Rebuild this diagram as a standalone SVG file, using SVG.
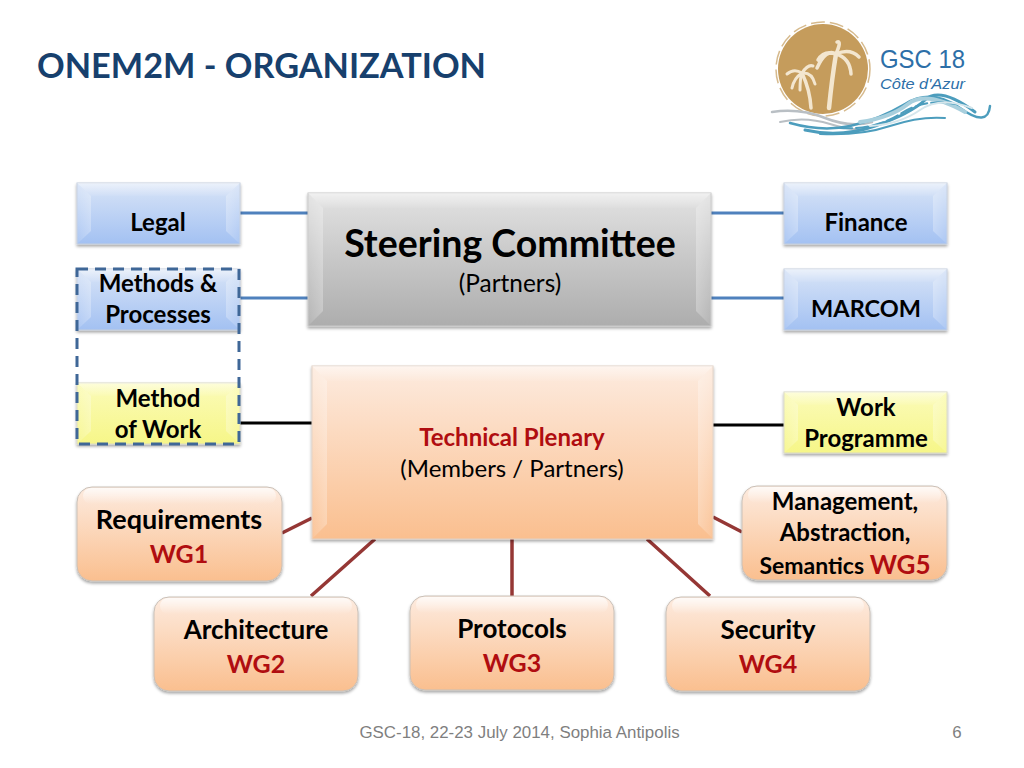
<svg xmlns="http://www.w3.org/2000/svg" width="1024" height="768" viewBox="0 0 1024 768">
<style>
text{font-family:Lato,"Open Sans",sans-serif;text-anchor:middle;fill:#000}
.b{font-weight:700;font-size:24px}
.w{font-weight:700;font-size:26px}
.wg{font-weight:700;font-size:25px;fill:#b00d10}
.r{fill:#b00d10}
.n{font-size:24px}
.bl{stroke:#4f81bd;stroke-width:3;fill:none}
.bk{stroke:#000;stroke-width:3;fill:none}
.br{stroke:#953735;stroke-width:3.5;fill:none}
.hi{fill:url(#gt)}
.sl{fill:url(#gl)}
.sr{fill:url(#gr)}
.foot{font-family:"Liberation Sans",Arial,sans-serif;font-size:16.9px;fill:#7f7f7f}
</style>
<defs>
<linearGradient id="gb" x1="0" y1="0" x2="0" y2="1"><stop offset="0" stop-color="#d8e4f7"/><stop offset="1" stop-color="#a3c1f2"/></linearGradient>
<linearGradient id="gy" x1="0" y1="0" x2="0" y2="1"><stop offset="0" stop-color="#fbfbb8"/><stop offset="1" stop-color="#f6f688"/></linearGradient>
<linearGradient id="gg" x1="0" y1="0" x2="0" y2="1"><stop offset="0" stop-color="#e2e2e2"/><stop offset="1" stop-color="#adadad"/></linearGradient>
<linearGradient id="go" x1="0" y1="0" x2="0" y2="1"><stop offset="0" stop-color="#fdebdf"/><stop offset="1" stop-color="#fabf8f"/></linearGradient>
<linearGradient id="gh" x1="0" y1="0" x2="0" y2="1"><stop offset="0" stop-color="#fff" stop-opacity=".75"/><stop offset="1" stop-color="#fff" stop-opacity="0"/></linearGradient>
<linearGradient id="gt" x1="0" y1="0" x2="0" y2="1"><stop offset="0" stop-color="#fff" stop-opacity=".5"/><stop offset="1" stop-color="#fff" stop-opacity=".05"/></linearGradient>
<linearGradient id="gl" x1="0" y1="0" x2="1" y2="0"><stop offset="0" stop-color="#fff" stop-opacity=".08"/><stop offset="1" stop-color="#fff" stop-opacity=".28"/></linearGradient>
<linearGradient id="gr" x1="1" y1="0" x2="0" y2="0"><stop offset="0" stop-color="#fff" stop-opacity=".08"/><stop offset="1" stop-color="#fff" stop-opacity=".28"/></linearGradient>
<filter id="s" x="-10%" y="-10%" width="120%" height="125%"><feDropShadow dx="0" dy="2" stdDeviation="1.6" flood-color="#000" flood-opacity=".35"/></filter>
</defs>

<text x="37" y="78" style="text-anchor:start;font-weight:700;font-size:34px;fill:#17406d" textLength="449" lengthAdjust="spacingAndGlyphs">ONEM2M - ORGANIZATION</text>

<g id="logo">
<circle cx="823" cy="69" r="45" fill="#c59c5c"/>
<circle cx="823" cy="69" r="47" fill="none" stroke="#c59c5c" stroke-width="1.5" stroke-dasharray="14 5" opacity=".7"/>
<g fill="none" stroke="#f3e6cf" stroke-linecap="round">
<path d="M829 108Q832 78 836 54" stroke-width="4.5"/>
<path d="M836 54Q826 48 817 68M836 54Q842 40 837 42M836 54Q850 48 859 57M836 54Q850 58 851 74M836 54Q824 50 818 60" stroke-width="3.5"/>
<path d="M811 108Q810 90 802 73" stroke-width="3.5"/>
<path d="M802 73Q794 68 787 74M802 73Q808 64 813 66M802 73Q812 72 815 84M802 73Q794 78 792 88M802 73Q800 78 800 90" stroke-width="3"/>
</g>
<g fill="none" stroke-linecap="round">
<path d="M772 112Q800 108 825 118T872 122" stroke="#b9bfc4" stroke-width="2.5"/>
<path d="M780 122Q805 116 830 124T870 128" stroke="#b9bfc4" stroke-width="2"/>
<path d="M790 123Q822 132 850 126T905 104T960 108T990 106" stroke="#4c9dbd" stroke-width="2.5"/>
<path d="M805 130Q840 138 875 126T925 100T975 112" stroke="#4c9dbd" stroke-width="3"/>
<path d="M860 122Q890 118 908 104T965 112" stroke="#a8cfdd" stroke-width="4"/>
<path d="M820 134Q860 136 890 126T945 118" stroke="#4c9dbd" stroke-width="2"/>
<path d="M840 128Q875 130 900 114T955 104" stroke="#4c9dbd" stroke-width="2" stroke-dasharray="12 4"/>
<path d="M870 126Q900 124 920 110T972 108" stroke="#d5e6ec" stroke-width="2"/>
</g>
<text x="880" y="68" style="text-anchor:start;font-family:'Liberation Sans',sans-serif;font-size:25px;fill:#2d6fa8" textLength="85" lengthAdjust="spacingAndGlyphs">GSC 18</text>
<text x="880" y="89" style="text-anchor:start;font-family:'Liberation Sans',sans-serif;font-style:italic;font-size:15px;fill:#2d6fa8" textLength="85" lengthAdjust="spacingAndGlyphs">Côte d'Azur</text>
</g>

<g id="connectors">
<path class="bl" d="M240 213H308M240 298H308M711 213H784M711 298H784"/>
<path class="bk" d="M240 423H312M713 425H784"/>
<path class="br" d="M282 533L312 518M375 539L311 596M512 539V596M647 539L710 596M713 517L742 532"/>
</g>

<g id="legal">
<g filter="url(#s)"><rect x="77" y="183" width="163" height="61" fill="url(#gb)" stroke="#c4cedd"/></g>
<path class="hi" d="M77 183H240L226 196H91Z"/><path class="sl" d="M77 183L91 196V231L77 244Z"/><path class="sr" d="M240 183L226 196V231L240 244Z"/>
<text class="b" x="158" y="231">Legal</text>
</g>
<g id="finance">
<g filter="url(#s)"><rect x="784" y="183" width="163" height="61" fill="url(#gb)" stroke="#c4cedd"/></g>
<path class="hi" d="M784 183H947L933 196H798Z"/><path class="sl" d="M784 183L798 196V231L784 244Z"/><path class="sr" d="M947 183L933 196V231L947 244Z"/>
<text class="b" x="866" y="231">Finance</text>
</g>
<g id="methods-processes">
<g filter="url(#s)"><rect x="77" y="269" width="163" height="61" fill="url(#gb)" stroke="#c4cedd"/></g>
<path class="hi" d="M77 269H240L226 282H91Z"/><path class="sl" d="M77 269L91 282V317L77 330Z"/><path class="sr" d="M240 269L226 282V317L240 330Z"/>
<text class="b" x="158" y="292">Methods &amp;</text><text class="b" x="158" y="323">Processes</text>
</g>
<g id="marcom">
<g filter="url(#s)"><rect x="784" y="269" width="163" height="61" fill="url(#gb)" stroke="#c4cedd"/></g>
<path class="hi" d="M784 269H947L933 282H798Z"/><path class="sl" d="M784 269L798 282V317L784 330Z"/><path class="sr" d="M947 269L933 282V317L947 330Z"/>
<text class="b" x="866" y="317" style="font-size:23.5px">MARCOM</text>
</g>
<g id="method-of-work">
<g filter="url(#s)"><rect x="77" y="383" width="163" height="61" fill="url(#gy)" stroke="#d8d8c4"/></g>
<path class="hi" d="M77 383H240L226 396H91Z"/><path class="sl" d="M77 383L91 396V431L77 444Z"/><path class="sr" d="M240 383L226 396V431L240 444Z"/>
<text class="b" x="158" y="407">Method</text><text class="b" x="158" y="438">of Work</text>
</g>
<g id="work-programme">
<g filter="url(#s)"><rect x="784" y="392" width="163" height="61" fill="url(#gy)" stroke="#d8d8c4"/></g>
<path class="hi" d="M784 392H947L933 405H798Z"/><path class="sl" d="M784 392L798 405V440L784 453Z"/><path class="sr" d="M947 392L933 405V440L947 453Z"/>
<text class="b" x="866" y="416">Work</text><text class="b" x="866" y="447">Programme</text>
</g>
<g id="dashed-group">
<rect x="77" y="269" width="162" height="175" fill="none" stroke="#3f6797" stroke-width="3" stroke-dasharray="11 7"/>
</g>

<g id="steering-committee">
<g filter="url(#s)"><rect x="308" y="193" width="403" height="133" fill="url(#gg)" stroke="#c8c8c8"/></g>
<path class="hi" d="M308 193H711L696 208H323Z"/><path class="sl" d="M308 193L323 208V311L308 326Z"/><path class="sr" d="M711 193L696 208V311L711 326Z"/>
<text x="510" y="257" style="font-weight:700;font-size:37.5px">Steering Committee</text>
<text class="n" x="510" y="292" style="font-size:24.4px">(Partners)</text>
</g>
<g id="technical-plenary">
<g filter="url(#s)"><rect x="312" y="366" width="401" height="173" fill="url(#go)" stroke="#e0d0c4"/></g>
<path class="hi" d="M312 366H713L698 381H327Z"/><path class="sl" d="M312 366L327 381V524L312 539Z"/><path class="sr" d="M713 366L698 381V524L713 539Z"/>
<text class="b r" x="512" y="446">Technical Plenary</text>
<text class="n" x="512" y="477">(Members / Partners)</text>
</g>

<g id="wg1">
<g filter="url(#s)"><rect x="77" y="487" width="205" height="94" rx="15" fill="url(#go)" stroke="#c9c0b8"/></g>
<rect x="83" y="488" width="193" height="16" rx="8" fill="url(#gh)"/>
<text class="w" x="179" y="529" style="font-size:27px">Requirements</text><text class="wg" x="179" y="563">WG1</text>
</g>
<g id="wg2">
<g filter="url(#s)"><rect x="154" y="597" width="204" height="94" rx="15" fill="url(#go)" stroke="#c9c0b8"/></g>
<rect x="160" y="598" width="192" height="16" rx="8" fill="url(#gh)"/>
<text class="w" x="256" y="639">Architecture</text><text class="wg" x="256" y="673">WG2</text>
</g>
<g id="wg3">
<g filter="url(#s)"><rect x="410" y="596" width="204" height="94" rx="15" fill="url(#go)" stroke="#c9c0b8"/></g>
<rect x="416" y="597" width="192" height="16" rx="8" fill="url(#gh)"/>
<text class="w" x="512" y="638">Protocols</text><text class="wg" x="512" y="672">WG3</text>
</g>
<g id="wg4">
<g filter="url(#s)"><rect x="666" y="597" width="204" height="94" rx="15" fill="url(#go)" stroke="#c9c0b8"/></g>
<rect x="672" y="598" width="192" height="16" rx="8" fill="url(#gh)"/>
<text class="w" x="768" y="639">Security</text><text class="wg" x="768" y="673">WG4</text>
</g>
<g id="wg5">
<g filter="url(#s)"><rect x="742" y="486" width="205" height="94" rx="15" fill="url(#go)" stroke="#c9c0b8"/></g>
<rect x="748" y="487" width="193" height="16" rx="8" fill="url(#gh)"/>
<text class="b" x="845" y="510">Management,</text><text class="b" x="845" y="541">Abstraction,</text>
<text class="b" x="845" y="574"><tspan style="font-size:23px">Semantics </tspan><tspan class="r" style="font-size:26px">WG5</tspan></text>
</g>

<text class="foot" x="519.5" y="738">GSC-18, 22-23 July 2014, Sophia Antipolis</text>
<text class="foot" x="957" y="738">6</text>
</svg>
